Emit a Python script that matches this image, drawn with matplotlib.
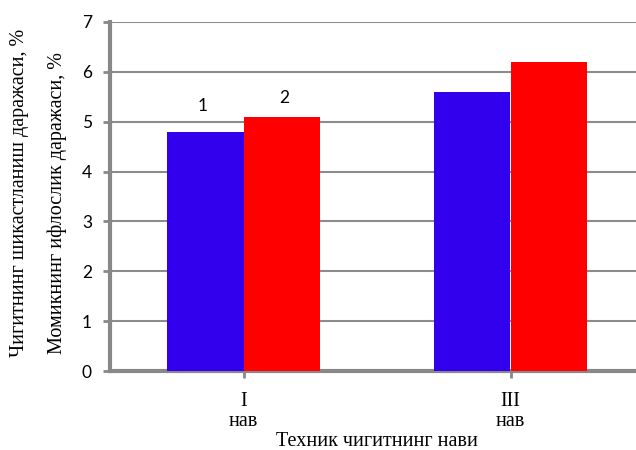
import numpy as np
import matplotlib
matplotlib.use("Agg")
import matplotlib.pyplot as plt

# Data
categories = ["I\nнав", "III\nнав"]
series_1 = [4.8, 5.6]   # blue, "1"
series_2 = [5.1, 6.2]   # red, "2"
series_names = ["1", "2"]

serif = "Liberation Serif"
sans = "Lato"

fig = plt.figure(figsize=(6.36, 4.5), dpi=100)
# axes runs past the right edge of the picture (the original is cropped)
ax = fig.add_axes([110 / 636, 79 / 450, 534 / 636, 349 / 450])

x = np.arange(len(categories))
w = 0.287
ax.bar(x - w / 2, series_1, w, color="#3300EE", zorder=3)
ax.bar(x + w / 2, series_2, w, color="#FF0000", zorder=3)

# series numbers above the first group only
ax.text(x[0] - w / 2 - 0.01, series_1[0] + 0.52, series_names[0], ha="center",
        va="center", fontsize=12.5, family=sans)
ax.text(x[0] + w / 2 + 0.01, series_2[0] + 0.38, series_names[1], ha="center",
        va="center", fontsize=12.5, family=sans)

ax.set_xlim(-0.5, 1.5)
ax.set_ylim(0, 7)
ax.set_yticks(range(0, 8))
ax.set_xticks(x)
ax.set_xticklabels(categories, family=serif, fontsize=14.5, linespacing=1.1)
ax.tick_params(axis="y", labelsize=12.5, length=5, width=2, color="#888888", pad=8)
ax.tick_params(axis="x", length=5, width=2, color="#888888", pad=10)
for lab in ax.get_yticklabels():
    lab.set_family(sans)

ax.grid(axis="y", color="#8c8c8c", linewidth=1.5, zorder=0)
for s in ["top", "right"]:
    ax.spines[s].set_visible(False)
for s in ["left", "bottom"]:
    ax.spines[s].set_color("#888888")
    ax.spines[s].set_linewidth(3)

fig.text(377 / 636, 1 - 441 / 450, "Техник чигитнинг нави", ha="center",
         va="center", family=serif, fontsize=14.5)

fig.text(20 / 636, 1 - 193 / 450, "Чигитнинг шикастланиш даражаси, %", rotation=90,
         ha="center", va="center", family=serif, fontsize=14.5)
fig.text(57 / 636, 1 - 203 / 450, "Момикнинг ифлослик даражаси, %", rotation=90,
         ha="center", va="center", family=serif, fontsize=14.5)

fig.savefig("out.png", dpi=100)
